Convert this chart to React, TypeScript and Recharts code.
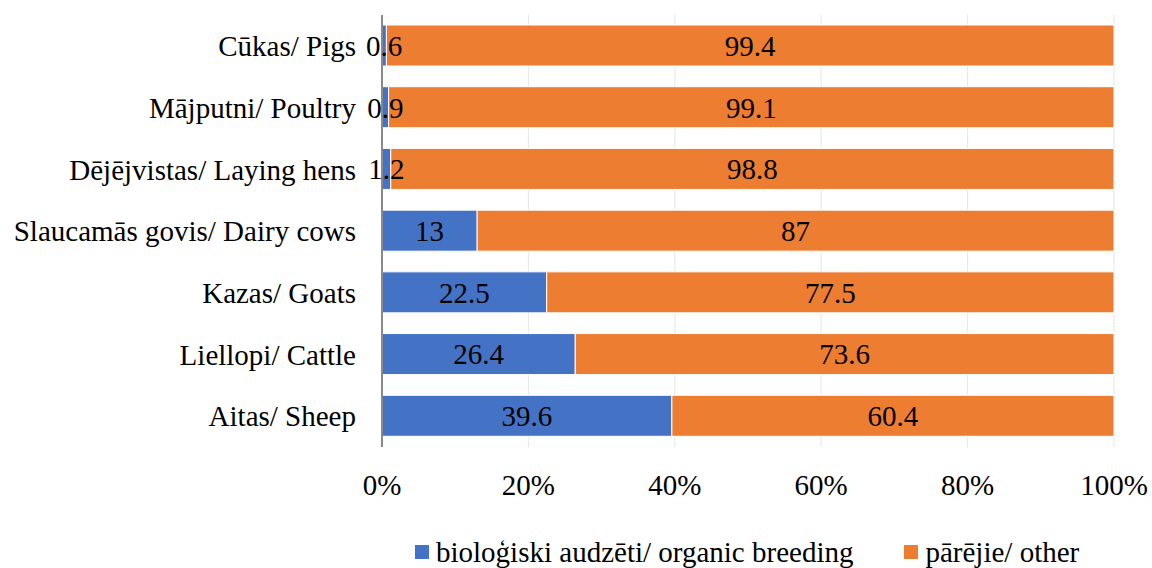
import React from 'react';
import {
  BarChart,
  Bar,
  XAxis,
  YAxis,
  CartesianGrid,
  Legend,
  LabelList,
} from 'recharts';

const categories = [
  'Cūkas/ Pigs',
  'Mājputni/ Poultry',
  'Dējējvistas/ Laying hens',
  'Slaucamās govis/ Dairy cows',
  'Kazas/ Goats',
  'Liellopi/ Cattle',
  'Aitas/ Sheep',
];
const organic = [0.6, 0.9, 1.2, 13, 22.5, 26.4, 39.6];
const other = [99.4, 99.1, 98.8, 87, 77.5, 73.6, 60.4];
const xTicks = [0, 20, 40, 60, 80, 100];

const seriesNames = {
  organic: 'bioloģiski audzēti/ organic breeding',
  other: 'pārējie/ other',
};

const BLUE = '#4472C4';
const ORANGE = '#ED7D31';
const FONT = '"Liberation Serif", "Times New Roman", serif';

const data = categories.map((name, i) => ({
  name,
  organic: organic[i],
  other: other[i],
}));

const renderLegend = () => (
  <div
    style={{
      display: 'flex',
      alignItems: 'center',
      height: 32,
      paddingLeft: 415,
      fontFamily: FONT,
      fontSize: 29,
      lineHeight: '32px',
      color: '#000',
      whiteSpace: 'nowrap',
    }}
  >
    <div style={{ display: 'flex', alignItems: 'center', marginRight: 51 }}>
      <span style={{ width: 14, height: 14, background: BLUE, marginRight: 7, display: 'inline-block' }} />
      <span>{seriesNames.organic}</span>
    </div>
    <div style={{ display: 'flex', alignItems: 'center' }}>
      <span style={{ width: 14, height: 14, background: ORANGE, marginRight: 7, display: 'inline-block' }} />
      <span>{seriesNames.other}</span>
    </div>
  </div>
);

export default function App() {
  const tickStyle = { fontSize: 29, fill: '#000', fontFamily: FONT };
  const labelStyle = { fontSize: 29, fill: '#000', fontFamily: FONT };

  return (
    <div style={{ position: 'absolute', left: 0, top: 0, width: 1152, height: 568, background: '#fff' }}>
      <BarChart
        width={1152}
        height={568}
        data={data}
        layout="vertical"
        margin={{ top: 15, right: 38, left: 0, bottom: 0 }}
      >
        <CartesianGrid horizontal={false} vertical={true} stroke="#e6e6e6" />
        <XAxis
          type="number"
          domain={[0, 100]}
          ticks={xTicks}
          tickFormatter={(v: number) => `${v}%`}
          axisLine={false}
          tickLine={false}
          tickSize={0}
          tickMargin={27}
          height={89}
          tick={tickStyle}
          interval={0}
        />
        <YAxis
          type="category"
          dataKey="name"
          width={382}
          axisLine={{ stroke: '#898989', strokeWidth: 2 }}
          tickLine={false}
          tickSize={0}
          tickMargin={26}
          tick={tickStyle}
          interval={0}
        />
        <Legend verticalAlign="bottom" content={renderLegend} wrapperStyle={{ left: 0, width: 1152 }} />
        <Bar dataKey="organic" name={seriesNames.organic} stackId="a" barSize={41} fill={BLUE} stroke="#fff" strokeWidth={1} isAnimationActive={false}>
          <LabelList dataKey="organic" position="center" style={labelStyle} />
        </Bar>
        <Bar dataKey="other" name={seriesNames.other} stackId="a" barSize={41} fill={ORANGE} stroke="#fff" strokeWidth={1} isAnimationActive={false}>
          <LabelList dataKey="other" position="center" style={labelStyle} />
        </Bar>
      </BarChart>
    </div>
  );
}
